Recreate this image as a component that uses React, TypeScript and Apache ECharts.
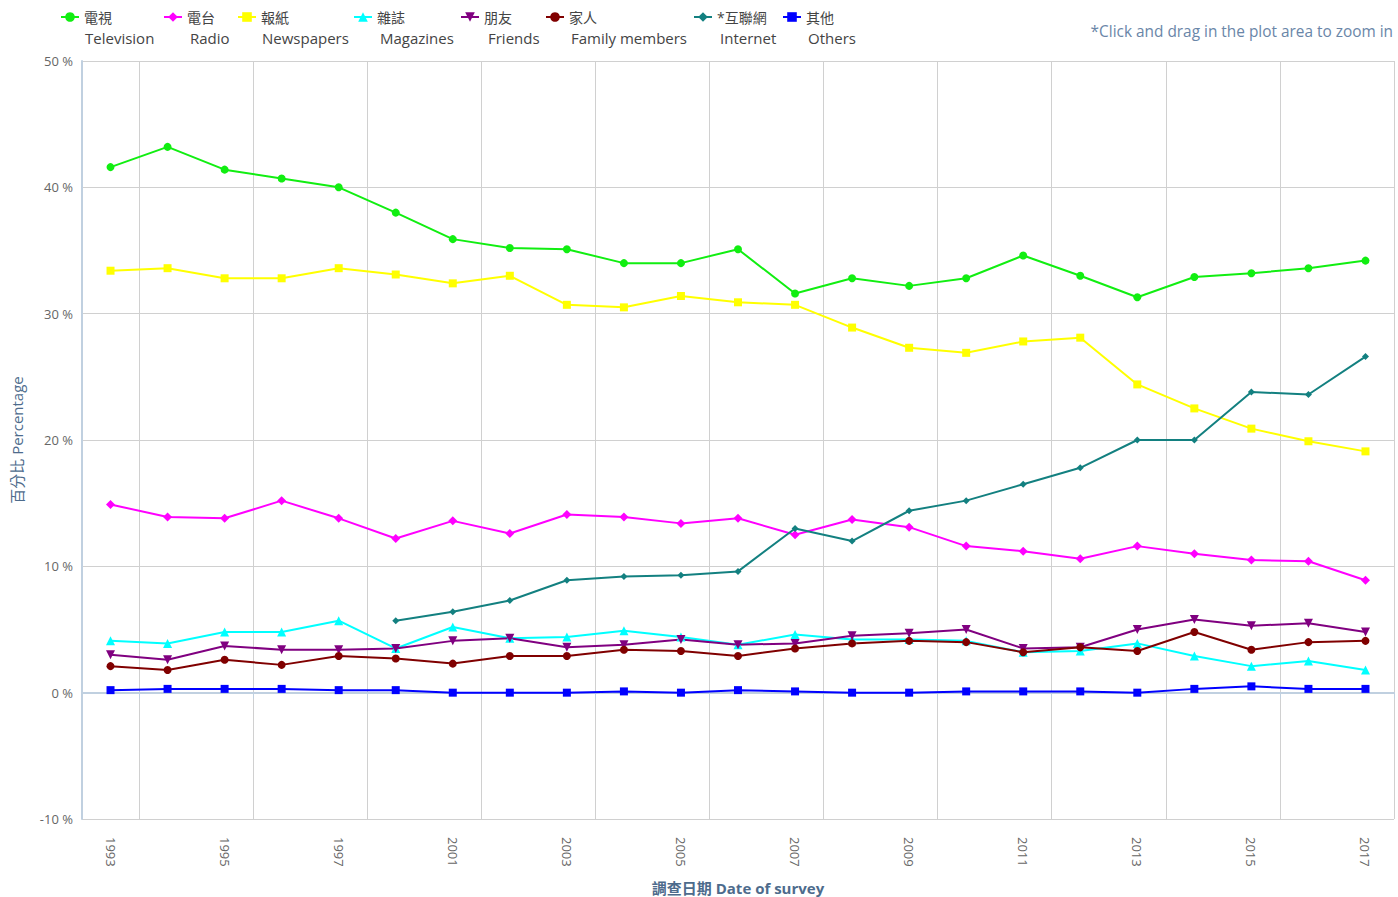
import React, { useEffect, useRef } from "react";
import * as echarts from "echarts";

const years = ["1993","1994","1995","1996","1997","1999","2001","2002","2003","2004","2005","2006","2007","2008","2009","2010","2011","2012","2013","2014","2015","2016","2017"];

const television = [41.6, 43.2, 41.4, 40.7, 40.0, 38.0, 35.9, 35.2, 35.1, 34.0, 34.0, 35.1, 31.6, 32.8, 32.2, 32.8, 34.6, 33.0, 31.3, 32.9, 33.2, 33.6, 34.2];
const radio = [14.9, 13.9, 13.8, 15.2, 13.8, 12.2, 13.6, 12.6, 14.1, 13.9, 13.4, 13.8, 12.5, 13.7, 13.1, 11.6, 11.2, 10.6, 11.6, 11.0, 10.5, 10.4, 8.9];
const newspapers = [33.4, 33.6, 32.8, 32.8, 33.6, 33.1, 32.4, 33.0, 30.7, 30.5, 31.4, 30.9, 30.7, 28.9, 27.3, 26.9, 27.8, 28.1, 24.4, 22.5, 20.9, 19.9, 19.1];
const magazines = [4.1, 3.9, 4.8, 4.8, 5.7, 3.5, 5.2, 4.3, 4.4, 4.9, 4.4, 3.8, 4.6, 4.2, 4.2, 4.1, 3.2, 3.3, 3.9, 2.9, 2.1, 2.5, 1.8];
const friends = [3.0, 2.6, 3.7, 3.4, 3.4, 3.5, 4.1, 4.3, 3.6, 3.8, 4.2, 3.8, 3.9, 4.5, 4.7, 5.0, 3.5, 3.6, 5.0, 5.8, 5.3, 5.5, 4.8];
const family = [2.1, 1.8, 2.6, 2.2, 2.9, 2.7, 2.3, 2.9, 2.9, 3.4, 3.3, 2.9, 3.5, 3.9, 4.1, 4.0, 3.2, 3.6, 3.3, 4.8, 3.4, 4.0, 4.1];
const internet = [null, null, null, null, null, 5.7, 6.4, 7.3, 8.9, 9.2, 9.3, 9.6, 13.0, 12.0, 14.4, 15.2, 16.5, 17.8, 20.0, 20.0, 23.8, 23.6, 26.6];
const others = [0.2, 0.3, 0.3, 0.3, 0.2, 0.2, 0.0, 0.0, 0.0, 0.1, 0.0, 0.2, 0.1, 0.0, 0.0, 0.1, 0.1, 0.1, 0.0, 0.3, 0.5, 0.3, 0.3];

const seriesNames = ["電視", "電台", "報紙", "雜誌", "朋友", "家人", "*互聯網", "其他"];
const englishNames = ["Television", "Radio", "Newspapers", "Magazines", "Friends", "Family members", "Internet", "Others"];
const seriesData = [television, radio, newspapers, magazines, friends, family, internet, others];
const colors = ["#11ee11", "#ff00ff", "#ffff00", "#00ffff", "#800080", "#800000", "#138080", "#0000ff"];
const symbols = ["circle", "diamond", "rect", "triangle", "path://M0,0 L10,0 L5,10 Z", "circle", "diamond", "rect"];
const symbolSizes = [8, 9, 8, 9, 9, 8, 7, 8];
const legendIconX = [60, 163, 237, 353, 460, 545, 693, 782];
const legendTextX = [85, 190, 262, 380, 488, 571, 720, 808];

const FONT = "'Open Sans', 'Noto Sans CJK TC', sans-serif";

export default function App() {
  const ref = useRef<HTMLDivElement>(null);
  useEffect(() => {
    if (!ref.current) return;
    const chart = echarts.init(ref.current, null, { renderer: "svg" });
    const option: any = {
      animation: false,
      backgroundColor: "#ffffff",
      textStyle: { fontFamily: FONT },
      grid: { left: 82, right: 4, top: 61, bottom: 78, containLabel: false, outerBoundsMode: "none" },
      legend: seriesNames.map((n, i) => ({
        data: [n],
        left: legendIconX[i],
        top: 10,
        itemWidth: 18,
        itemHeight: 12,
        itemGap: 0,
        padding: 0,
        textStyle: { fontFamily: FONT, fontSize: 14, color: "#444" },
      })),
      graphic: [
        ...englishNames.map((t, i) => ({
          type: "text",
          left: legendTextX[i],
          top: 30,
          style: { text: t, fontFamily: FONT, fontSize: 15, fill: "#444" },
        })),
        {
          type: "text",
          right: 5,
          top: 24,
          style: { text: "*Click and drag in the plot area to zoom in", fontFamily: FONT, fontSize: 15.4, fill: "#6a86a8" },
        },
      ],
      xAxis: {
        type: "category",
        data: years,
        boundaryGap: true,
        name: "調查日期 Date of survey",
        nameLocation: "middle",
        nameGap: 61,
        nameTextStyle: { fontFamily: FONT, fontSize: 15, fontWeight: "bold", color: "#4d6b8c" },
        axisLine: { show: true, lineStyle: { color: "#c0d0e0", width: 2 } },
        axisTick: { show: true, interval: (idx: number) => idx % 2 === 1, length: 6, lineStyle: { color: "#c0d0e0" } },
        splitLine: { show: true, interval: (idx: number) => idx % 2 === 1, lineStyle: { color: "#d0d0d0", width: 1 } },
        axisLabel: {
          interval: (idx: number) => idx % 2 === 0,
          rotate: -90,
          margin: 18,
          color: "#666",
          fontSize: 13,
          fontFamily: FONT,
        },
      },
      yAxis: {
        type: "value",
        min: -10,
        max: 50,
        interval: 10,
        name: "百分比 Percentage",
        nameLocation: "middle",
        nameGap: 58,
        nameTextStyle: { fontFamily: FONT, fontSize: 15, color: "#4d6b8c" },
        axisLine: { show: true, lineStyle: { color: "#c0d0e0", width: 2 } },
        axisTick: { show: false },
        splitLine: { show: true, lineStyle: { color: "#d0d0d0", width: 1 } },
        axisLabel: { formatter: "{value} %", color: "#666", fontSize: 13, margin: 9, fontFamily: FONT },
      },
      series: seriesNames.map((n, i) => ({
        name: n,
        type: "line",
        data: seriesData[i],
        color: colors[i],
        symbol: symbols[i],
        symbolSize: symbolSizes[i],
        showSymbol: true,
        lineStyle: { width: 2, color: colors[i] },
        itemStyle: { color: colors[i] },
        connectNulls: false,
      })),
    };
    chart.setOption(option);
    return () => chart.dispose();
  }, []);
  return (
    <div
      ref={ref}
      style={{ position: "absolute", left: 0, top: 0, width: 1398, height: 897 }}
    />
  );
}
